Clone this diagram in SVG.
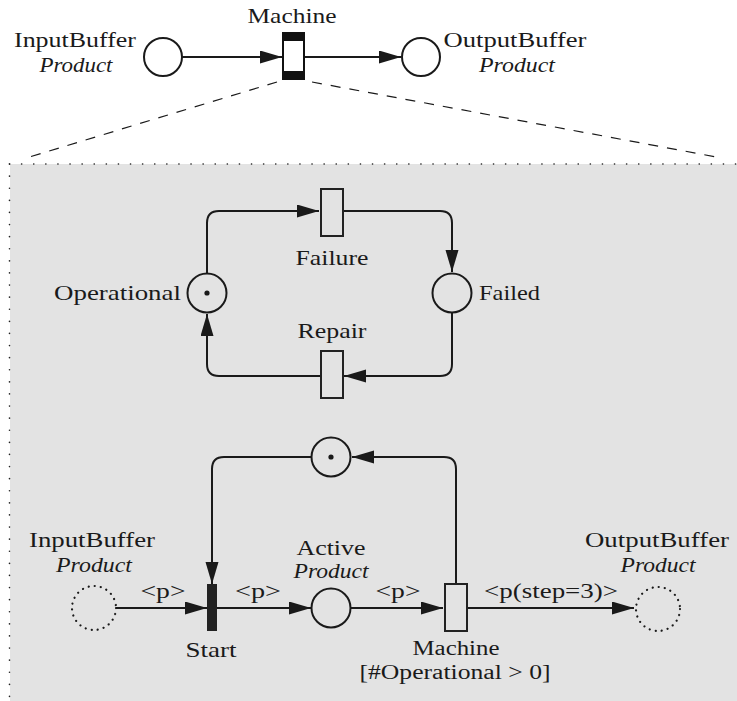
<svg xmlns="http://www.w3.org/2000/svg" width="737" height="701" viewBox="0 0 737 701">
<style>
  text { font-family: "Liberation Serif", "Times New Roman", Times, serif; font-size: 22px; fill: #1a1a1a; }
  .it { font-style: italic; font-size: 21px; }
  .sm { font-size: 20px; }
  .mid { text-anchor: middle; }
  .place { fill: none; stroke: #1a1a1a; stroke-width: 2; }
  .ghost { fill: none; stroke: #1a1a1a; stroke-width: 2.2; stroke-dasharray: 0.1 6; stroke-linecap: round; }
  .trans { fill: #e3e3e3; stroke: #222; stroke-width: 2; }
  .arc { fill: none; stroke: #1a1a1a; stroke-width: 2; }
  .dash { fill: none; stroke: #1a1a1a; stroke-width: 1.2; stroke-dasharray: 10 9; }
  .token { fill: #1a1a1a; }
</style>
<defs>
  <marker id="ah" markerUnits="userSpaceOnUse" markerWidth="24" markerHeight="14" refX="22" refY="6.5" orient="auto">
    <path d="M0,0 L22,6.5 L0,13 z" fill="#1a1a1a"/>
  </marker>
</defs>

<rect x="0" y="0" width="737" height="701" fill="#ffffff"/>

<!-- Expanded region -->
<g id="detail-box">
  <rect x="10" y="164" width="727" height="537" fill="#e3e3e3"/>
  <path d="M9.5,164 L737,164" fill="none" stroke="#222" stroke-width="1.6" stroke-dasharray="0.1 12" stroke-linecap="round"/>
  <path d="M9.5,164 L9.5,701" fill="none" stroke="#222" stroke-width="1.6" stroke-dasharray="0.1 12" stroke-linecap="round"/>
</g>

<!-- Connectors -->
<g id="connectors">
  <path class="dash" d="M277,82 L26,158"/>
  <path class="dash" d="M312,82 L722,158"/>
  <path class="arc" marker-end="url(#ah)" d="M182,57 L282,57"/>
  <path class="arc" marker-end="url(#ah)" d="M305,57 L401,57"/>

  <path class="arc" marker-end="url(#ah)" d="M207,274 L207,223 Q207,211 219,211 L319,211"/>
  <path class="arc" marker-end="url(#ah)" d="M343,211 L440,211 Q452,211 452,223 L452,272"/>
  <path class="arc" marker-end="url(#ah)" d="M452,313 L452,364 Q452,376 440,376 L344,376"/>
  <path class="arc" marker-end="url(#ah)" d="M320,376 L219,376 Q207,376 207,364 L207,314"/>

  <path class="arc" marker-end="url(#ah)" d="M116,608 L207,608"/>
  <path class="arc" marker-end="url(#ah)" d="M217,608 L311,608"/>
  <path class="arc" marker-end="url(#ah)" d="M351,608 L443,608"/>
  <path class="arc" marker-end="url(#ah)" d="M468,608 L634,608"/>
  <path class="arc" marker-end="url(#ah)" d="M456,584 L456,469 Q456,457 444,457 L352,457"/>
  <path class="arc" marker-end="url(#ah)" d="M312,457 L224,457 Q212,457 212,469 L212,584"/>
</g>

<!-- Top level -->
<g id="top-inputbuffer">
  <circle class="place" cx="163" cy="57" r="19"/>
  <text x="75" y="47" class="mid" textLength="122" lengthAdjust="spacingAndGlyphs">InputBuffer</text>
  <text x="76" y="72" class="mid it" textLength="73" lengthAdjust="spacingAndGlyphs">Product</text>
</g>
<g id="top-machine">
  <rect x="283" y="33" width="21" height="46" fill="#ffffff" stroke="#111" stroke-width="2"/>
  <rect x="283" y="33" width="21" height="8" fill="#111"/>
  <rect x="283" y="71" width="21" height="8" fill="#111"/>
  <text x="292" y="23" class="mid" textLength="89" lengthAdjust="spacingAndGlyphs">Machine</text>
</g>
<g id="top-outputbuffer">
  <circle class="place" cx="421" cy="57" r="19"/>
  <text x="515" y="47" class="mid" textLength="143" lengthAdjust="spacingAndGlyphs">OutputBuffer</text>
  <text x="517" y="72" class="mid it" textLength="76" lengthAdjust="spacingAndGlyphs">Product</text>
</g>

<!-- Failure model -->
<g id="failure">
  <rect class="trans" x="321" y="189" width="22" height="47"/>
  <text x="332" y="265" class="mid" textLength="73" lengthAdjust="spacingAndGlyphs">Failure</text>
</g>
<g id="operational">
  <circle class="place" cx="207" cy="293" r="19.5"/>
  <circle class="token" cx="207" cy="293" r="2.6"/>
  <text x="181" y="300" text-anchor="end" textLength="127" lengthAdjust="spacingAndGlyphs">Operational</text>
</g>
<g id="failed">
  <circle class="place" cx="452" cy="293" r="19.5"/>
  <text x="479" y="300" textLength="61" lengthAdjust="spacingAndGlyphs">Failed</text>
</g>
<g id="repair">
  <rect class="trans" x="321" y="351" width="22" height="47"/>
  <text x="332" y="338" class="mid" textLength="69" lengthAdjust="spacingAndGlyphs">Repair</text>
</g>

<!-- Production model -->
<g id="in-buffer">
  <circle class="ghost" cx="94" cy="608" r="22"/>
  <text x="92" y="547" class="mid" textLength="126" lengthAdjust="spacingAndGlyphs">InputBuffer</text>
  <text x="94" y="572" class="mid it" textLength="76" lengthAdjust="spacingAndGlyphs">Product</text>
</g>
<g id="start">
  <rect x="207" y="584" width="10" height="47" fill="#222"/>
  <text x="211" y="657" class="mid" textLength="51" lengthAdjust="spacingAndGlyphs">Start</text>
</g>
<g id="active">
  <circle class="place" cx="331" cy="608" r="19.5"/>
  <text x="331" y="555" class="mid" textLength="69" lengthAdjust="spacingAndGlyphs">Active</text>
  <text x="331" y="578" class="mid it" textLength="75" lengthAdjust="spacingAndGlyphs">Product</text>
</g>
<g id="capacity">
  <circle class="place" cx="331" cy="457" r="19.5"/>
  <circle class="token" cx="331" cy="457" r="2.6"/>
</g>
<g id="machine">
  <rect class="trans" x="445" y="584" width="22" height="47"/>
  <text x="456" y="655" class="mid sm" textLength="87" lengthAdjust="spacingAndGlyphs">Machine</text>
  <text x="455" y="679" class="mid sm" textLength="191" lengthAdjust="spacingAndGlyphs">[#Operational &gt; 0]</text>
</g>
<g id="out-buffer">
  <circle class="ghost" cx="658" cy="609" r="22"/>
  <text x="657" y="547" class="mid" textLength="144" lengthAdjust="spacingAndGlyphs">OutputBuffer</text>
  <text x="658" y="572" class="mid it" textLength="75" lengthAdjust="spacingAndGlyphs">Product</text>
</g>

<!-- Arc labels -->
<g id="arc-labels">
  <text x="163" y="598" class="mid" textLength="45" lengthAdjust="spacingAndGlyphs">&lt;p&gt;</text>
  <text x="258" y="598" class="mid" textLength="46" lengthAdjust="spacingAndGlyphs">&lt;p&gt;</text>
  <text x="398" y="598" class="mid" textLength="45" lengthAdjust="spacingAndGlyphs">&lt;p&gt;</text>
  <text x="551" y="598" class="mid" textLength="134" lengthAdjust="spacingAndGlyphs">&lt;p(step=3)&gt;</text>
</g>
</svg>
